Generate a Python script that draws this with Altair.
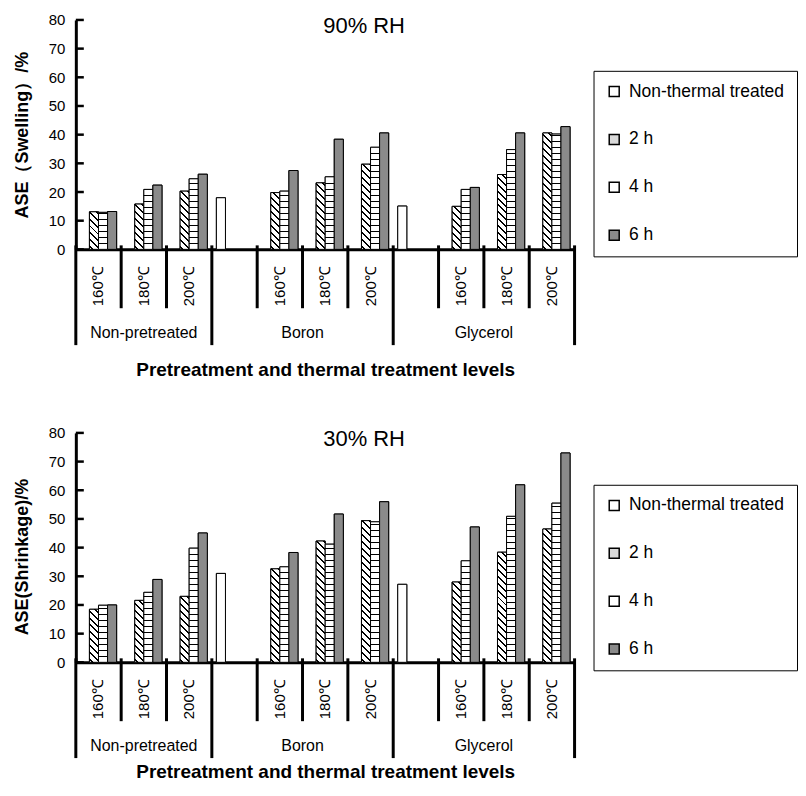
import altair as alt

# ---------------- data ----------------
groups = ["Non-pretreated", "Boron", "Glycerol"]
temps = ["160℃", "180℃", "200℃"]
series = ["Non-thermal treated", "2 h", "4 h", "6 h"]
y_ticks = [0, 10, 20, 30, 40, 50, 60, 70, 80]
x_title = "Pretreatment and thermal treatment levels"

# 90% RH panel: ASE (swelling), %
rh90_title = "90% RH"
rh90_ytitle = "ASE（Swelling）/%"
rh90_nonthermal = [None, 18.0, 15.1]          # one untreated bar per pretreatment group
rh90_2h = [13.1, 15.8, 20.3, 19.8, 23.2, 29.7, 15.0, 26.1, 40.6]   # group x temperature
rh90_4h = [12.9, 20.9, 24.6, 20.3, 25.3, 35.6, 20.9, 34.8, 40.2]
rh90_6h = [13.2, 22.4, 26.2, 27.5, 38.4, 40.6, 21.6, 40.6, 42.8]

# 30% RH panel: ASE (shrinkage), %
rh30_title = "30% RH"
rh30_ytitle = "ASE(Shrinkage)/%"
rh30_nonthermal = [None, 31.0, 27.2]
rh30_2h = [18.5, 21.6, 23.0, 32.6, 42.3, 49.4, 28.0, 38.4, 46.5]
rh30_4h = [19.9, 24.4, 39.8, 33.3, 41.2, 49.0, 35.4, 50.9, 55.5]
rh30_6h = [20.0, 28.9, 45.1, 38.3, 51.7, 56.0, 47.2, 61.9, 73.0]

# ---------------- styling ----------------
W, H = 500, 230
Y_MAX = 80
FONT = "Liberation Sans"
fill_colors = ["white", "#d9d9d9", "white", "#8a8a8a"]
GRAY = "#8a8a8a"


def diag_gradient(w, h, period=7.0, th=2.0):
    """Back-slash hatching as a hard-stop linear gradient (bounding-box units)."""
    S = w + h
    stops = [{"offset": 0, "color": "white"}]
    s = 2.0
    while s < S:
        a = round(s / S, 5)
        b = round(min((s + th) / S, 1.0), 5)
        stops += [{"offset": a, "color": "white"}, {"offset": a, "color": "black"},
                  {"offset": b, "color": "black"}, {"offset": b, "color": "white"}]
        s += period
    stops.append({"offset": 1, "color": "white"})
    k = S / (w * w + h * h)
    return {"gradient": "linear", "x1": 0, "y1": 1,
            "x2": round(k * w, 6), "y2": round(1 - k * h, 6), "stops": stops}


def hline_gradient(h, period=6.0, th=1.3):
    ys = []
    d = period
    while d < h - 1:
        ys.append(h - d)
        d += period
    stops = [{"offset": 0, "color": "white"}]
    for y in sorted(ys):
        a = round(max((y - th / 2) / h, 0), 5)
        b = round(min((y + th / 2) / h, 1), 5)
        stops += [{"offset": a, "color": "white"}, {"offset": a, "color": "black"},
                  {"offset": b, "color": "black"}, {"offset": b, "color": "white"}]
    stops.append({"offset": 1, "color": "white"})
    return {"gradient": "linear", "x1": 0, "y1": 0, "x2": 0, "y2": 1, "stops": stops}


def panel(title, ytitle, nonthermal, v2, v4, v6, legend_y, title_dy, xt_pad):
    # slots of the category axis
    slots, group_slots = [], []
    for gi, g in enumerate(groups):
        gs = []
        if nonthermal[gi] is not None:
            gs.append(g + "|NT")
        for t in temps:
            gs.append(g + "|" + t)
        group_slots.append(gs)
        slots += gs

    px = H / Y_MAX
    bw = W / len(slots) / 5.0

    bars = []
    for gi, g in enumerate(groups):
        if nonthermal[gi] is not None:
            bars.append({"slot": g + "|NT", "series": series[0],
                         "value": nonthermal[gi], "grad": "white"})
        for ti, t in enumerate(temps):
            i = gi * len(temps) + ti
            key = g + "|" + t
            bars.append({"slot": key, "series": series[1], "value": v2[i],
                         "grad": diag_gradient(bw, v2[i] * px)})
            bars.append({"slot": key, "series": series[2], "value": v4[i],
                         "grad": hline_gradient(v4[i] * px)})
            bars.append({"slot": key, "series": series[3], "value": v6[i],
                         "grad": GRAY})

    temp_rows = [{"slot": g + "|" + t, "temp": t} for g in groups for t in temps]
    short_rows = [{"slot": s} for gs in group_slots for s in gs[1:]]
    long_rows = [{"slot": gs[0]} for gs in group_slots]
    end_rows = [{"slot": slots[-1]}]
    mid_half, mid_end = [], []
    for g, gs in zip(groups, group_slots):
        n = len(gs)
        if n % 2:
            mid_half.append({"slot": gs[n // 2], "group": g})
        else:
            mid_end.append({"slot": gs[n // 2 - 1], "group": g})

    x_scale = alt.Scale(domain=slots, paddingInner=0, paddingOuter=0)
    x_axis = alt.Axis(labels=False, ticks=False, grid=False, domainWidth=3,
                      domainColor="black", title=x_title, titleFont=FONT,
                      titleFontSize=19, titleFontWeight="bold", titleColor="black",
                      titlePadding=xt_pad)
    y_scale = alt.Scale(domain=[0, Y_MAX], nice=False)
    y_axis = alt.Axis(values=y_ticks, tickSize=0, grid=False, domainWidth=3,
                      domainColor="black", labelFont=FONT, labelFontSize=15,
                      labelColor="black", labelPadding=11, title=ytitle,
                      titleFont=FONT, titleFontSize=18, titleFontWeight="bold",
                      titleColor="black", titlePadding=17, titleY=H / 2 + title_dy)

    def X(band=0.5):
        return alt.X("slot:N", scale=x_scale, axis=x_axis, bandPosition=band)

    off = alt.XOffset("series:N", scale=alt.Scale(domain=series, paddingInner=0,
                                                   paddingOuter=0.5))
    Y = alt.Y("value:Q", scale=y_scale, axis=y_axis)

    legend = alt.Legend(title=None, orient="none", legendX=519, legendY=legend_y,
                        symbolType="square", symbolSize=100,
                        symbolStrokeColor="black", symbolStrokeWidth=1.5,
                        labelFont=FONT, labelFontSize=17.5, labelColor="black",
                        labelOffset=6, labelLimit=400, rowPadding=29, padding=12,
                        strokeColor="black", fillColor="white")

    base = alt.Chart(alt.Data(values=bars)).mark_bar(stroke="black", strokeWidth=1).encode(
        x=X(), xOffset=off, y=Y,
        color=alt.Color("series:N", scale=alt.Scale(domain=series, range=fill_colors),
                        legend=legend))
    pattern = alt.Chart(alt.Data(values=bars)).mark_bar(stroke="black", strokeWidth=1).encode(
        x=X(), xOffset=off, y=Y, fill=alt.Fill("grad:N", scale=None, legend=None))

    ticks = alt.Chart(alt.Data(values=[{"value": v} for v in y_ticks])).mark_rule(
        color="black", strokeWidth=2.5).encode(y=Y, x=alt.value(0), x2=alt.value(8))

    short = alt.Chart(alt.Data(values=short_rows)).mark_rule(
        color="black", strokeWidth=3).encode(x=X(0), y=alt.value(H - 4), y2=alt.value(H + 59))
    longl = alt.Chart(alt.Data(values=long_rows)).mark_rule(
        color="black", strokeWidth=3).encode(x=X(0), y=alt.value(H - 4), y2=alt.value(H + 96))
    endl = alt.Chart(alt.Data(values=end_rows)).mark_rule(
        color="black", strokeWidth=3).encode(x=X(1), y=alt.value(H - 4), y2=alt.value(H + 96))

    tlab = alt.Chart(alt.Data(values=temp_rows)).mark_text(
        angle=270, font=FONT, fontSize=15, color="black", align="center",
        baseline="middle").encode(x=X(), y=alt.value(H + 37), text="temp:N")
    g1 = alt.Chart(alt.Data(values=mid_half)).mark_text(
        font=FONT, fontSize=16, color="black", baseline="middle").encode(
        x=X(0.5), y=alt.value(H + 84), text="group:N")
    g2 = alt.Chart(alt.Data(values=mid_end)).mark_text(
        font=FONT, fontSize=16, color="black", baseline="middle").encode(
        x=X(1), y=alt.value(H + 84), text="group:N")

    ttl = alt.Chart(alt.Data(values=[{"t": title}])).mark_text(
        font=FONT, fontSize=22, color="black", baseline="middle").encode(
        text="t:N", x=alt.value(289), y=alt.value(6))

    return alt.layer(base, pattern, ticks, short, longl, endl, tlab, g1, g2, ttl).properties(
        width=W, height=H)


top = panel(rh90_title, rh90_ytitle, rh90_nonthermal, rh90_2h, rh90_4h, rh90_6h, 51, 0, 111)
bottom = panel(rh30_title, rh30_ytitle, rh30_nonthermal, rh30_2h, rh30_4h, rh30_6h, 52, 9, 100)

chart = alt.vconcat(top, bottom, spacing=47).resolve_legend(
    color="independent").configure_view(stroke=None).properties(
    background="white", padding={"left": 5, "top": 4, "right": 0, "bottom": 0})

chart.save("out.html", embed_options={"renderer": "svg", "actions": False})
